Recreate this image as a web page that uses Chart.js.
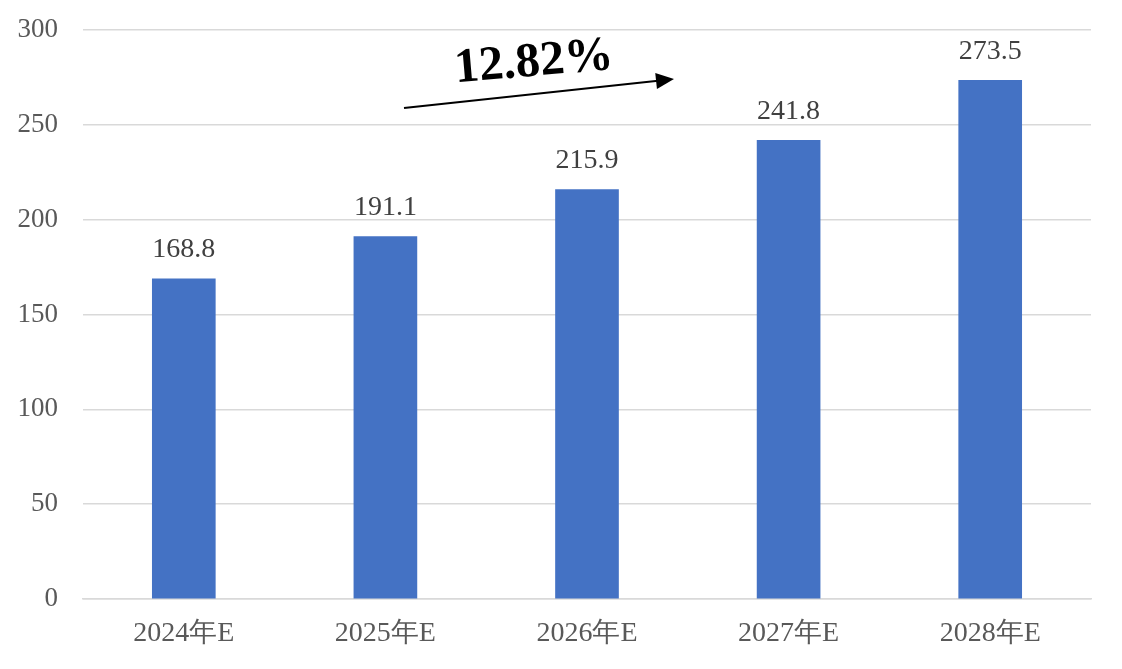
<!DOCTYPE html>
<html>
<head>
<meta charset="utf-8">
<script src="https://cdn.jsdelivr.net/npm/chart.js@4/dist/chart.umd.min.js"></script>
<style>
html,body{margin:0;padding:0;background:#fff;}
#wrap{width:1122px;height:669px;position:relative;}
</style>
</head>
<body>
<div id="wrap"><canvas id="c" width="1122" height="669"></canvas></div>
<script>
const categories = ["2024年E", "2025年E", "2026年E", "2027年E", "2028年E"];
const values = [168.8, 191.1, 215.9, 241.8, 273.5];
const yTicks = [0, 50, 100, 150, 200, 250, 300];
const growthLabel = "12.82%";

const FONT = "'Liberation Serif', 'Times New Roman', serif";

const dataLabels = {
  id: 'dataLabels',
  afterDatasetsDraw(chart) {
    const ctx = chart.ctx;
    const meta = chart.getDatasetMeta(0);
    ctx.save();
    ctx.font = "28px " + FONT;
    ctx.fillStyle = "#404040";
    ctx.textAlign = "center";
    ctx.textBaseline = "middle";
    meta.data.forEach((bar, i) => {
      ctx.fillText(values[i].toFixed(1), bar.x, bar.y - 29);
    });
    ctx.restore();
  }
};

const growthArrow = {
  id: 'growthArrow',
  afterDraw(chart) {
    const ctx = chart.ctx;
    ctx.save();
    const x1 = 404, y1 = 108, x2 = 674, y2 = 79;
    const ang = Math.atan2(y2 - y1, x2 - x1);
    ctx.strokeStyle = "#000";
    ctx.lineWidth = 2;
    ctx.beginPath();
    ctx.moveTo(x1, y1);
    ctx.lineTo(x2 - 16 * Math.cos(ang), y2 - 16 * Math.sin(ang));
    ctx.stroke();
    ctx.fillStyle = "#000";
    ctx.beginPath();
    ctx.translate(x2, y2);
    ctx.rotate(ang);
    ctx.moveTo(0, 0);
    ctx.lineTo(-18, -8);
    ctx.lineTo(-18, 8);
    ctx.closePath();
    ctx.fill();
    ctx.restore();

    ctx.save();
    ctx.translate(534, 63);
    ctx.rotate(-0.085);
    ctx.font = "bold 49px " + FONT;
    ctx.fillStyle = "#000";
    ctx.textAlign = "center";
    ctx.textBaseline = "middle";
    ctx.fillText(growthLabel, 0, 0);
    ctx.restore();
  }
};

new Chart(document.getElementById('c'), {
  type: 'bar',
  data: {
    labels: categories,
    datasets: [{
      data: values,
      backgroundColor: '#4472C4',
      borderWidth: 0,
      barThickness: 63
    }]
  },
  options: {
    responsive: false,
    animation: false,
    devicePixelRatio: 1,
    layout: { padding: { top: 30, right: 31, left: 0, bottom: 0 } },
    plugins: { legend: { display: false }, tooltip: { enabled: false } },
    scales: {
      x: {
        grid: { display: false, drawTicks: false },
        border: { display: true, color: '#d9d9d9', width: 1.5 },
        ticks: { color: '#595959', font: { family: FONT, size: 28 }, padding: 18, maxRotation: 0 },
        afterFit(s) { s.height = 70; }
      },
      y: {
        min: 0, max: 300,
        afterBuildTicks(s) { s.ticks = yTicks.map(v => ({ value: v })); },
        grid: { color: '#d9d9d9', lineWidth: 1.5, drawTicks: false },
        border: { display: false },
        ticks: { color: '#595959', font: { family: FONT, size: 27 }, padding: 25 },
        afterFit(s) { s.width = 83; s.paddingTop = 0; s.paddingBottom = 0; }
      }
    }
  },
  plugins: [dataLabels, growthArrow]
});
</script>
</body>
</html>
